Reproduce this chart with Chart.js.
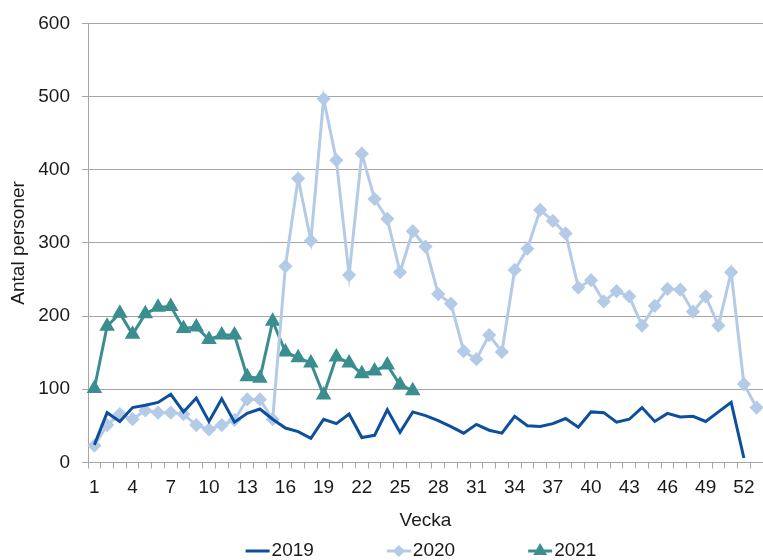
<!DOCTYPE html>
<html>
<head>
<meta charset="utf-8">
<script src="https://cdn.jsdelivr.net/npm/chart.js@4.4.1/dist/chart.umd.min.js"></script>
<style>
  html, body { margin: 0; padding: 0; background: #fff; overflow: hidden; }
  #wrap { width: 772px; height: 560px; }
</style>
</head>
<body>
<div id="wrap"><canvas id="chart" width="772" height="560"></canvas></div>
<script>
const weeks = ['1','2','3','4','5','6','7','8','9','10','11','12','13','14','15','16','17','18','19','20',
  '21','22','23','24','25','26','27','28','29','30','31','32','33','34','35','36','37','38','39','40',
  '41','42','43','44','45','46','47','48','49','50','51','52','53'];

const values2019 = [24, 68, 56, 75, 78, 82, 93, 69, 88, 56, 87, 55, 67, 73, 59, 47, 42, 33, 59, 53,
  66, 34, 37, 72, 41, 69, 64, 57, 49, 40, 52, 44, 40, 63, 50, 49, 53, 60, 48, 69,
  68, 55, 59, 75, 56, 67, 62, 63, 56, 69, 82, 6];

const values2020 = [23, 51, 66, 59, 71, 68, 68, 66, 51, 45, 51, 58, 86, 86, 59, 268, 388, 303, 497, 413,
  256, 422, 360, 333, 260, 316, 295, 230, 217, 152, 141, 174, 151, 263, 292, 345, 330, 313, 239, 249,
  220, 234, 227, 187, 214, 237, 236, 206, 227, 187, 260, 107, 75];

const values2021 = [101, 186, 204, 175, 203, 212, 213, 183, 185, 168, 174, 174, 117, 115, 193, 151, 143, 136, 92, 144,
  136, 121, 125, 133, 106, 98];

const fontFamily = "'Liberation Sans', Arial, sans-serif";
const gridGray = '#a6a6a6';
const textColor = '#1a1a1a';

// Excel-style legend: short line with the series marker on it, then the label
const excelLegend = {
  id: 'excelLegend',
  afterDraw(chart) {
    const ctx = chart.ctx;
    const lineLen = 24, textGap = 2, itemGap = 73, centerX = 421, y = 551;
    ctx.save();
    ctx.font = `19px ${fontFamily}`;
    const items = chart.data.datasets.map(ds => ({ ds, w: ctx.measureText(ds.label).width }));
    const total = items.reduce((s, it) => s + lineLen + textGap + it.w, 0) + itemGap * (items.length - 1);
    let x = centerX - total / 2;
    items.forEach(({ ds, w }) => {
      ctx.strokeStyle = ds.borderColor;
      ctx.lineWidth = 3;
      ctx.beginPath();
      ctx.moveTo(x, y);
      ctx.lineTo(x + lineLen, y);
      ctx.stroke();
      if (ds.pointRadius) {
        ctx.fillStyle = ds.borderColor;
        Chart.helpers.drawPoint(ctx, { pointStyle: ds.pointStyle, radius: ds.pointRadius - 1, borderWidth: 1 }, x + lineLen / 2, y);
      }
      ctx.fillStyle = textColor;
      ctx.textBaseline = 'middle';
      ctx.textAlign = 'left';
      ctx.fillText(ds.label, x + lineLen + textGap, y);
      x += lineLen + textGap + w + itemGap;
    });
    ctx.restore();
  }
};

new Chart(document.getElementById('chart').getContext('2d'), {
  type: 'line',
  data: {
    labels: weeks,
    datasets: [
      {
        label: '2019',
        data: values2019,
        borderColor: '#0d4f9a',
        backgroundColor: '#0d4f9a',
        borderWidth: 3,
        pointRadius: 0,
        tension: 0
      },
      {
        label: '2020',
        data: values2020,
        borderColor: '#b4cbe8',
        backgroundColor: '#b4cbe8',
        borderWidth: 3,
        pointStyle: 'rectRot',
        pointRadius: 5,
        tension: 0
      },
      {
        label: '2021',
        data: values2021,
        borderColor: '#3a8e8f',
        backgroundColor: '#3a8e8f',
        borderWidth: 3,
        pointStyle: 'triangle',
        pointRadius: 6,
        tension: 0
      }
    ]
  },
  options: {
    responsive: false,
    animation: false,
    layout: { padding: { left: 0, top: 1, right: 0, bottom: 26 } },
    scales: {
      x: {
        offset: true,
        grid: { offset: true, drawOnChartArea: false, tickLength: 6, color: gridGray },
        border: { color: gridGray },
        ticks: {
          autoSkip: false,
          maxRotation: 0,
          padding: 8,
          color: textColor,
          font: { family: fontFamily, size: 19 },
          callback: function (value, index) { return index % 3 === 0 ? this.getLabelForValue(value) : ''; }
        },
        title: { display: true, text: 'Vecka', color: textColor, font: { family: fontFamily, size: 19 }, padding: { top: 2, bottom: 2 } }
      },
      y: {
        min: 0,
        max: 600,
        afterFit(scale) { scale.width = 88; },
        grid: { color: gridGray, tickLength: 6 },
        border: { color: gridGray },
        ticks: { stepSize: 100, padding: 12, color: textColor, font: { family: fontFamily, size: 19 } },
        title: { display: true, text: 'Antal personer', color: textColor, font: { family: fontFamily, size: 19 }, padding: { top: 7, bottom: 4 } }
      }
    },
    plugins: {
      tooltip: { enabled: false },
      legend: { display: false }
    }
  },
  plugins: [excelLegend]
});
</script>
</body>
</html>
